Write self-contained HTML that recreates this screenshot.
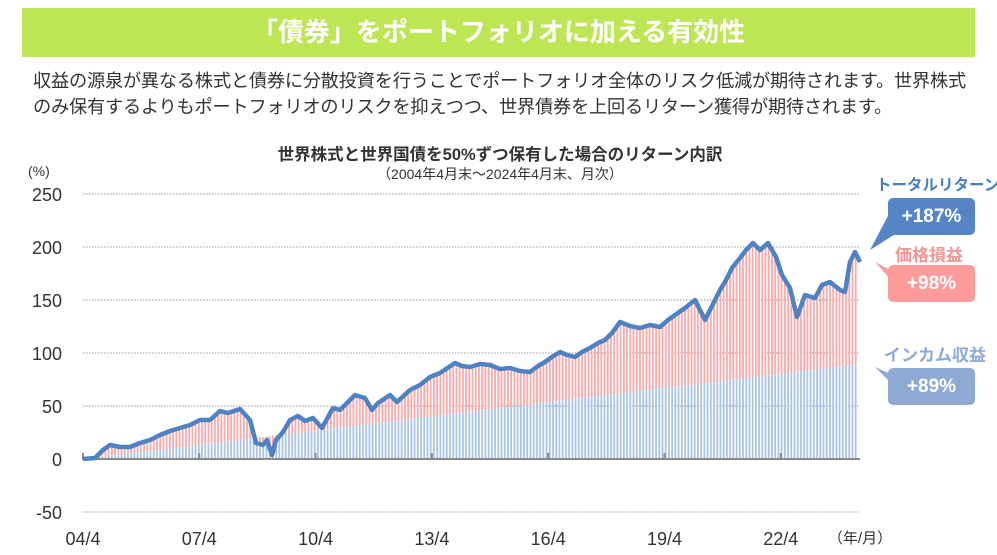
<!DOCTYPE html>
<html><head><meta charset="utf-8">
<style>
body{margin:0;background:#fff;width:997px;height:555px;overflow:hidden;font-family:"Liberation Sans","Noto Sans CJK JP",sans-serif;position:relative}
.hd{position:absolute;left:22px;top:8px;width:953px;height:49px;background:#bde654;color:#fff;font-weight:bold;font-size:26px;text-align:center;line-height:49px}
.p{position:absolute;left:33px;font-size:18.2px;color:#333;white-space:nowrap;letter-spacing:-0.2px}
.ab{position:absolute;font-weight:bold;white-space:nowrap}
.box{position:absolute;color:#fff;font-weight:bold;font-size:19px;text-align:center;border-radius:5px}
</style></head><body>
<div class="hd">「債券」をポートフォリオに加える有効性</div>
<div class="p" style="top:67px">収益の源泉が異なる株式と債券に分散投資を行うことでポートフォリオ全体のリスク低減が期待されます。世界株式</div>
<div class="p" style="top:93px">のみ保有するよりもポートフォリオのリスクを抑えつつ、世界債券を上回るリターン獲得が期待されます。</div>
<svg id="c" width="997" height="555" style="position:absolute;left:0;top:0" xmlns="http://www.w3.org/2000/svg">
<text x="500" y="160" text-anchor="middle" font-size="16.5" font-weight="bold" fill="#333" font-family="Liberation Sans,Noto Sans CJK JP,sans-serif">世界株式と世界国債を50%ずつ保有した場合のリターン内訳</text>
<text x="500" y="179" text-anchor="middle" font-size="14" fill="#333" font-family="Liberation Sans,Noto Sans CJK JP,sans-serif">（2004年4月末～2024年4月末、月次）</text>
<text x="28" y="176" font-size="14" fill="#333" font-family="Liberation Sans,sans-serif">(%)</text>
<g id="g"></g>
</svg>
<div class="ab" style="left:876px;top:173px;font-size:15.5px;color:#4a7ebb">トータルリターン</div>
<div class="ab" style="left:895px;top:241px;font-size:17px;color:#f49696">価格損益</div>
<div class="ab" style="left:884px;top:341px;font-size:17px;color:#8eaadb">インカム収益</div>
<div class="box" style="left:888px;top:198px;width:87px;height:37px;line-height:37px;background:#5585c5">+187%</div>
<div class="box" style="left:888px;top:265px;width:87px;height:37px;line-height:37px;background:#fd9b9b">+98%</div>
<div class="box" style="left:888px;top:368px;width:87px;height:37px;line-height:37px;background:#8eaad4">+89%</div>
<script>
var g=document.getElementById("g"),h="";
function Y(v){return 459-v*1.06}
[250,200,150,100,50,-50].forEach(function(v){h+='<line x1="83" x2="860" y1="'+Y(v)+'" y2="'+Y(v)+'" stroke="#999" stroke-dasharray="1.5,1.5" stroke-width="1"/>';});
[250,200,150,100,50,0,-50].forEach(function(v){h+='<text x="62" y="'+(Y(v)+7)+'" text-anchor="end" font-size="18" fill="#333" font-family="Liberation Sans,sans-serif">'+v+'</text>';});
var L=["04/4","07/4","10/4","13/4","16/4","19/4","22/4"];
L.forEach(function(s,i){var x=83+i*116.3;h+='<text x="'+x+'" y="545" text-anchor="middle" font-size="18" fill="#333" font-family="Liberation Sans,sans-serif">'+s+'</text>';});
h+='<text x="860" y="543" text-anchor="middle" font-size="15" fill="#333" font-family="Liberation Sans,Noto Sans CJK JP,sans-serif">（年/月）</text>';
var K=[[83,459],[95,458],[103,450],[110,445],[120,447],[130,447],[140,443],[150,440],[160,435],[170,431],[180,428],[190,425],[200,420],[210,420],[220,411],[228,413],[240,409],[250,420],[256,443],[263,445],[267,440],[272,455],[276,440],[283,432],[290,420],[298,416],[305,421],[313,418],[322,428],[333,408],[340,410],[350,400],[355,395],[365,398],[372,410],[378,403],[390,395],[397,402],[410,390],[420,385],[430,377],[440,373],[455,363],[462,366],[470,367],[480,364],[490,365],[500,369],[510,368],[520,371],[530,372],[538,366],[545,362],[552,357],[560,352],[567,355],[575,357],[582,352],[590,348],[598,343],[605,340],[612,333],[620,322],[630,326],[640,328],[650,325],[660,327],[668,320],[675,315],[685,308],[695,300],[700,310],[705,320],[710,310],[715,300],[720,290],[725,282],[732,268],[740,258],[746,250],[753,243],[760,250],[768,243],[776,257],[782,275],[790,288],[797,317],[805,295],[815,298],[822,285],[830,282],[840,290],[845,292],[850,262],[855,252],[860,262]];
function tot(x){for(var i=1;i<K.length;i++){if(x<=K[i][0]){var a=K[i-1],b=K[i];return a[1]+(b[1]-a[1])*(x-a[0])/(b[0]-a[0]);}}return K[K.length-1][1];}
for(var m=1;m<=240;m++){var x=83+m*3.22;var ti=Y(89*m/240),t=tot(x);
h+='<rect x="'+(x-1)+'" y="'+ti+'" width="1.8" height="'+(459-ti)+'" fill="#a9c4e8"/>';
var a=Math.min(t,ti),b=Math.max(t,ti);h+='<rect x="'+(x-1)+'" y="'+a+'" width="1.8" height="'+(b-a)+'" fill="#fbaaaa"/>';}
h+='<line x1="83" x2="860" y1="459" y2="459" stroke="#888" stroke-width="2"/>';
L.forEach(function(s,i){var x=83+i*116.3;h+='<line x1="'+x+'" x2="'+x+'" y1="453" y2="460" stroke="#888" stroke-width="2"/>';});
h+='<polyline fill="none" stroke="#4f82c3" stroke-width="4.5" stroke-linejoin="round" points="'+K.map(function(p){return p.join(",")}).join(" ")+'"/>';
h+='<polygon points="890,212 870,250 905,228" fill="#5585c5"/>';
h+='<polygon points="875,262 900,275 900,290" fill="#fd9b9b"/>';
h+='<polygon points="875,367 900,378 900,392" fill="#8eaad4"/>';
g.innerHTML=h;
</script>
</body></html>
